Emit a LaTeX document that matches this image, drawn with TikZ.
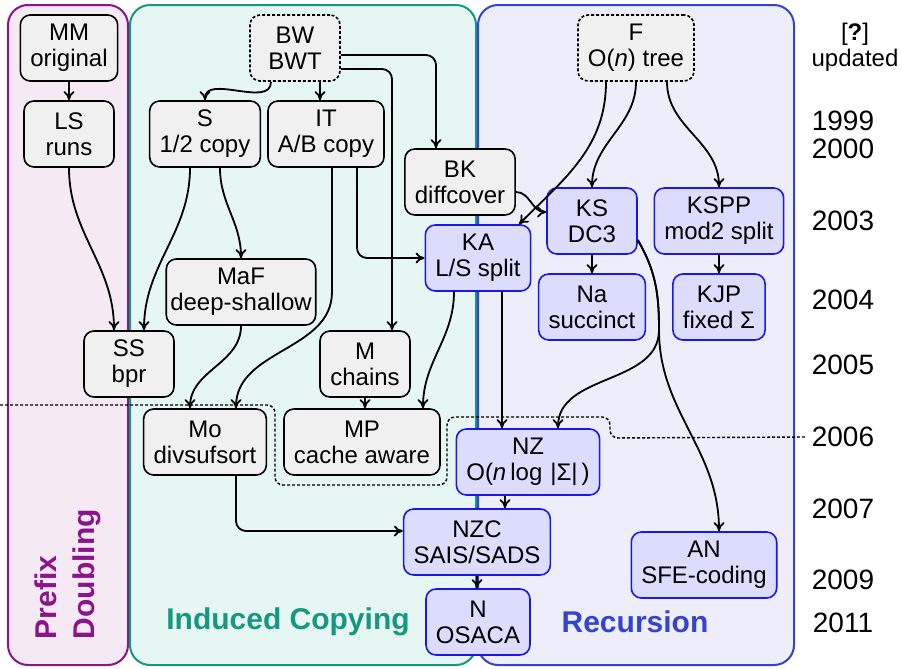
\documentclass[tikz,border=0pt]{standalone}
\usepackage{fontspec}
\setmainfont{Liberation Sans}
\usepackage{tikz}
\usetikzlibrary{arrows.meta, positioning}
\definecolor{pdline}{RGB}{139,20,139}
\definecolor{pdfill}{RGB}{245,233,243}
\definecolor{icline}{RGB}{22,152,128}
\definecolor{icfill}{RGB}{230,246,242}
\definecolor{reline}{RGB}{52,68,204}
\definecolor{refill}{RGB}{238,238,250}
\definecolor{nodegray}{RGB}{240,240,240}
\definecolor{nodeblue}{RGB}{220,220,252}
\definecolor{edgeblue}{RGB}{24,24,238}
\tikzstyle{block} = [draw, fill=nodegray, rectangle, rounded corners=5pt,
    line width=0.8pt, align=center, inner xsep=5pt,
    minimum height=33pt, minimum width=45pt]
\tikzstyle{newblock} = [block, draw=edgeblue, fill=nodeblue]
\tikzstyle{seed} = [block, dash pattern=on 1.5pt off 1pt]
\tikzstyle{family} = [rounded corners=10pt, line width=1pt]
\tikzstyle{famlabel} = [font=\fontsize{15}{19}\selectfont\bfseries, inner sep=0pt]
\tikzstyle{year} = [font=\fontsize{14}{16}\selectfont, inner sep=0pt]
\tikzstyle{boundary} = [line width=0.7pt, dash pattern=on 1.5pt off 1pt, rounded corners=4pt]
\newcommand{\ital}[1]{\textit{#1}}

\begin{document}
\begin{tikzpicture}[x=0.5pt, y=-0.5pt, >={To[length=4.5pt,width=5.5pt]}, line width=0.9pt,
    font=\fontsize{12}{13}\selectfont]
    \useasboundingbox (0,0) rectangle (901,669);
    \draw [family, draw=pdline, fill=pdfill] (8,5) rectangle (128,665);
    \draw [family, draw=icline, fill=icfill] (130,5) rectangle (476,665);
    \draw [family, draw=reline, fill=refill] (478,5) rectangle (794,665);
    \node [famlabel, text=pdline, rotate=90, anchor=west, align=left] (pdlabel) at (68,640) {Prefix\\Doubling};
    \node [famlabel, text=icline] (iclabel) at (288,622) {Induced Copying};
    \node [famlabel, text=reline] (relabel) at (635,622) {Recursion};

    \node [year, align=center, font=\fontsize{12}{13}\selectfont] (updated) at (855,47) {[\textbf{?}]\\updated};
    \node [year] (y1999) at (843,121) {1999};
    \node [year] (y2000) at (843,149) {2000};
    \node [year] (y2003) at (843,221) {2003};
    \node [year] (y2004) at (843,300) {2004};
    \node [year] (y2005) at (843,365) {2005};
    \node [year] (y2006) at (843,437) {2006};
    \node [year] (y2007) at (843,509) {2007};
    \node [year] (y2009) at (843,580) {2009};
    \node [year] (y2011) at (843,623) {2011};

    \draw [boundary] (0,405) -- (275,405) -- (275,485) -- (447,485) -- (447,417)
        -- (610,417) -- (610,438) -- ([xshift=-2pt]y2006.west);

    \node [block] (MM) at (69,48) {MM\\original};
    \node [block] (LS) at (69,134) {LS\\runs};
    \node [seed] (BW) at (295,48) {BW\\BWT};
    \node [block] (S) at (205,134) {S\\1/2 copy};
    \node [block] (IT) at (326,134) {IT\\A/B copy};
    \node [block] (BK) at (460,182) {BK\\diffcover};
    \node [block, inner xsep=2pt] (MaF) at (241,292) {MaF\\deep-shallow};
    \node [block] (SS) at (129,364) {SS\\bpr};
    \node [block] (M) at (365,364) {M\\chains};
    \node [block] (Mo) at (205,442) {Mo\\divsufsort};
    \node [block] (MP) at (362,442) {MP\\cache aware};
    \node [seed] (F) at (636,48) {F\\O(\ital{n}) tree};
    \node [newblock] (KS) at (592,221) {KS\\DC3};
    \node [newblock] (KSPP) at (719,221) {KSPP\\mod2 split};
    \node [newblock] (KA) at (478,258) {KA\\L/S split};
    \node [newblock] (Na) at (592,307) {Na\\succinct};
    \node [newblock] (KJP) at (719,307) {KJP\\fixed Σ};
    \node [newblock] (NZ) at (528,462) {NZ\\O(\ital{n}\,log\,\,|Σ|\,)};
    \node [newblock] (NZC) at (477,542) {NZC\\SAIS/SADS};
    \node [newblock] (AN) at (704,565) {AN\\SFE-coding};
    \node [newblock] (N) at (478,622) {N\\OSACA};
    \coordinate (ksturn) at (659,330);

    \draw [->] (MM) -- (LS);
    \draw [->] (LS.south) to[out=-90,in=90] ([xshift=-7.5pt]SS.north);
    \draw [->] ([xshift=-7.5pt]S.south) to[out=-90,in=90] ([xshift=7.5pt]SS.north);
    \draw [->] ([xshift=7.5pt]S.south) to[out=-90,in=90] (MaF.north);
    \draw [->] ([xshift=-12pt]BW.south) to[out=-90,in=90] (S.north);
    \draw [->] ([xshift=12.5pt]BW.south) -- ([xshift=12.5pt]BW.south |- IT.north);
    \draw [->, rounded corners=5pt] ([yshift=-3.5pt]BW.east) -| ([xshift=-12pt]BK.north);
    \draw [->, rounded corners=5pt] ([yshift=-10.5pt]BW.east) -| ([xshift=13.5pt]M.north);
    \draw [->] ([xshift=3pt]IT.south) -- ([xshift=3pt]IT.south |- MaF.center)
        to[out=-90,in=90] ([xshift=15.5pt]Mo.north);
    \draw [->] (MaF.south) to[out=-90,in=90] ([xshift=-7.5pt]Mo.north);
    \draw [->, rounded corners=5pt] ([xshift=15.5pt]IT.south) |- (KA.west);
    \draw [->] ([xshift=-12pt]KA.south) to[out=-90,in=90] ([xshift=30.5pt]MP.north);
    \draw [->] (M.south) -- (M.south |- MP.north);
    \draw [->] ([xshift=12pt]KA.south) -- ([xshift=12pt]KA.south |- NZ.north);
    \draw [->] ([xshift=-15pt]F.south) to[out=-90,in=45] ([xshift=20.5pt]KA.north);
    \draw [->] (F.south) to[out=-90,in=90] (KS.north);
    \draw [->] ([xshift=15.5pt]F.south) to[out=-90,in=90] (KSPP.north);
    \draw [->] ([yshift=-5pt]BK.east) to[out=0,in=180] ([yshift=4.5pt]KS.west);
    \draw [->] (KS.south) -- (Na.north);
    \draw [->] (KSPP.south) -- (KJP.north);
    \draw [->] ([yshift=-9.5pt]KS.east) to[out=-60,in=90] (ksturn)
        to[out=-90,in=90] ([xshift=15pt]NZ.north);
    \draw [->] ([yshift=-9.5pt]KS.east) to[out=-60,in=90] (ksturn)
        to[out=-90,in=90] ([xshift=7.5pt]AN.north);
    \draw [->] ([xshift=-11.5pt]NZ.south) -- ([xshift=-11.5pt]NZ.south |- NZC.north);
    \draw [->, rounded corners=5pt] ([xshift=15.5pt]Mo.south) |- ([yshift=5.5pt]NZC.west);
    \draw [->] (NZC.south) -- (NZC.south |- N.north);
\end{tikzpicture}
\end{document}
